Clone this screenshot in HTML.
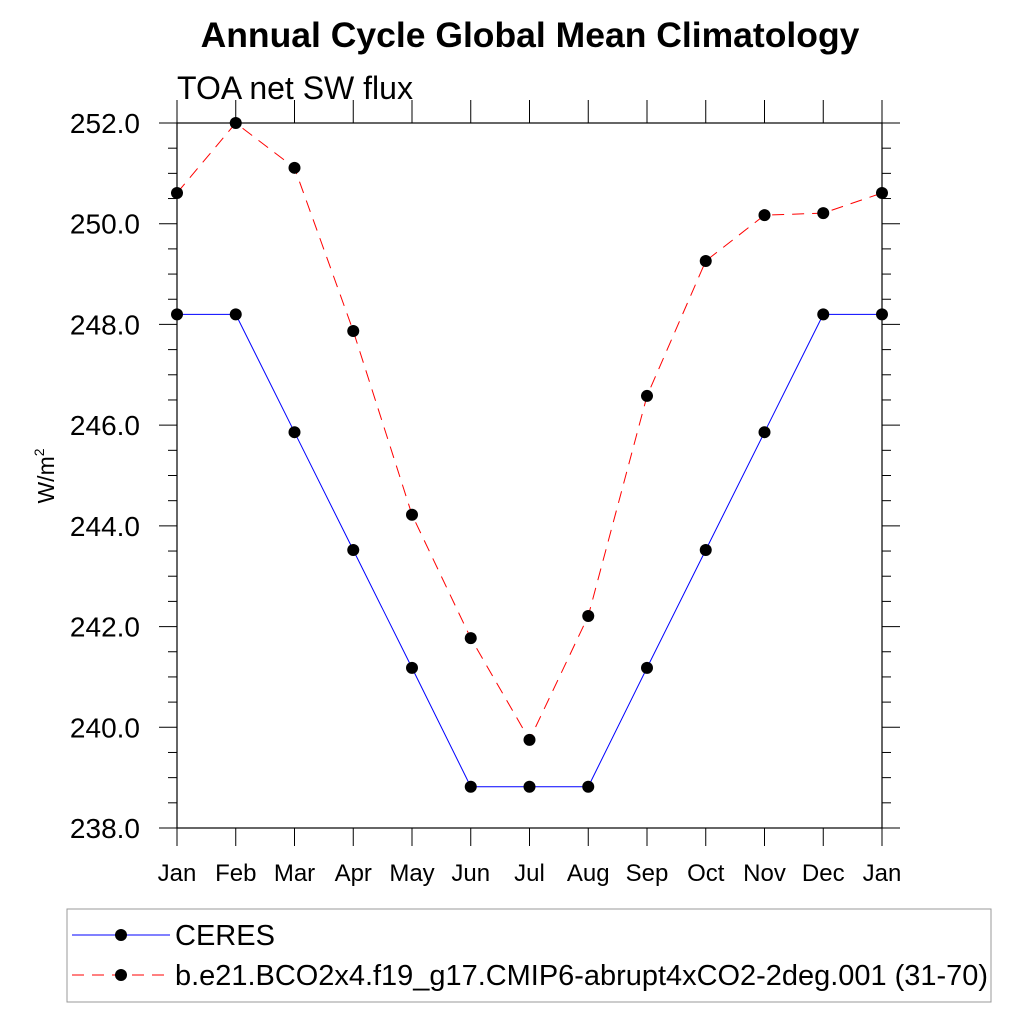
<!DOCTYPE html>
<html><head><meta charset="utf-8"><style>
body{margin:0;background:#fff}
svg{display:block;font-family:"Liberation Sans",sans-serif}
</style></head><body>
<svg width="1024" height="1024" viewBox="0 0 1024 1024">
<text x="530" y="47" text-anchor="middle" font-size="35.5" font-weight="bold">Annual Cycle Global Mean Climatology</text>
<text x="177" y="99" font-size="32">TOA net SW flux</text>
<text transform="translate(54,476) rotate(-90)" text-anchor="middle" font-size="23">W/m<tspan dy="-10" font-size="14">2</tspan></text>
<g id="axes"></g>
<g id="series"></g>
<rect x="67" y="909" width="924" height="93" fill="none" stroke="#999" stroke-width="1"/>
<g>
<line x1="72" y1="935" x2="170" y2="935" stroke="blue" stroke-width="1"/>
<circle cx="121" cy="935" r="6" fill="#000"/>
<text x="175" y="945" font-size="29">CERES</text>
</g>
<g>
<line x1="72" y1="975" x2="170" y2="975" stroke="red" stroke-width="1" stroke-dasharray="12,8"/>
<circle cx="121" cy="975" r="6" fill="#000"/>
<text x="175" y="985" font-size="29" textLength="813" lengthAdjust="spacingAndGlyphs">b.e21.BCO2x4.f19_g17.CMIP6-abrupt4xCO2-2deg.001 (31-70)</text>
</g>
</svg>
<script>
const months=["Jan","Feb","Mar","Apr","May","Jun","Jul","Aug","Sep","Oct","Nov","Dec","Jan"];
const ceres=[248.2,248.2,245.86,243.52,241.18,238.82,238.82,238.82,241.18,243.52,245.86,248.2,248.2];
const model=[250.61,252.0,251.11,247.87,244.22,241.77,239.75,242.21,246.58,249.26,250.17,250.21,250.61];
const yTicks=[238,240,242,244,246,248,250,252];
const NS="http://www.w3.org/2000/svg";
const X0=177,X1=882,Y0=123,Y1=828,YMIN=238,YMAX=252;
function xs(i){return X0+(X1-X0)*i/(months.length-1);}
function ys(v){return Y1-(v-YMIN)/(YMAX-YMIN)*(Y1-Y0);}
function mk(t,a,p){const e=document.createElementNS(NS,t);for(const k in a)e.setAttribute(k,a[k]);p.appendChild(e);return e;}
const ax=document.getElementById('axes'),se=document.getElementById('series');
const fr=mk('rect',{x:X0,y:Y0,width:X1-X0,height:Y1-Y0,fill:'none',stroke:'#000','stroke-width':1.2},ax);


for(let v=YMIN;v<=YMAX+0.001;v+=0.5){
  const y=ys(v),maj=Math.abs(v-Math.round(v/2)*2)<0.01;
  const L=maj?18:9;
  mk('line',{x1:X0-L,y1:y,x2:X0,y2:y,stroke:'#000','stroke-width':1},ax);
  mk('line',{x1:X1,y1:y,x2:X1+L,y2:y,stroke:'#000','stroke-width':1},ax);
}
yTicks.forEach(v=>{
  const t=mk('text',{x:140,y:ys(v)+10,'text-anchor':'end','font-size':28},ax);
  t.textContent=v.toFixed(1);
  
  
});
months.forEach((m,i)=>{
  const x=xs(i);
  mk('line',{x1:x,y1:Y0-23,x2:x,y2:Y0,stroke:'#000','stroke-width':1},ax);
  mk('line',{x1:x,y1:Y1,x2:x,y2:Y1+18,stroke:'#000','stroke-width':1},ax);
  const t=mk('text',{x:x,y:881,'text-anchor':'middle','font-size':24},ax);
  t.textContent=m;
  
  
});
function draw(arr,color,dash,name){
  const pl=mk('polyline',{points:arr.map((v,i)=>xs(i)+','+ys(v)).join(' '),fill:'none',stroke:color,'stroke-width':1,'stroke-dasharray':dash},se);
  
  
  arr.forEach((v,i)=>{
    const c=mk('circle',{cx:xs(i),cy:ys(v),r:6,fill:'#000'},se);
    
    
  });
}
draw(ceres,'blue','none','ceres');
draw(model,'red','12,8','model');
</script>
</body></html>
